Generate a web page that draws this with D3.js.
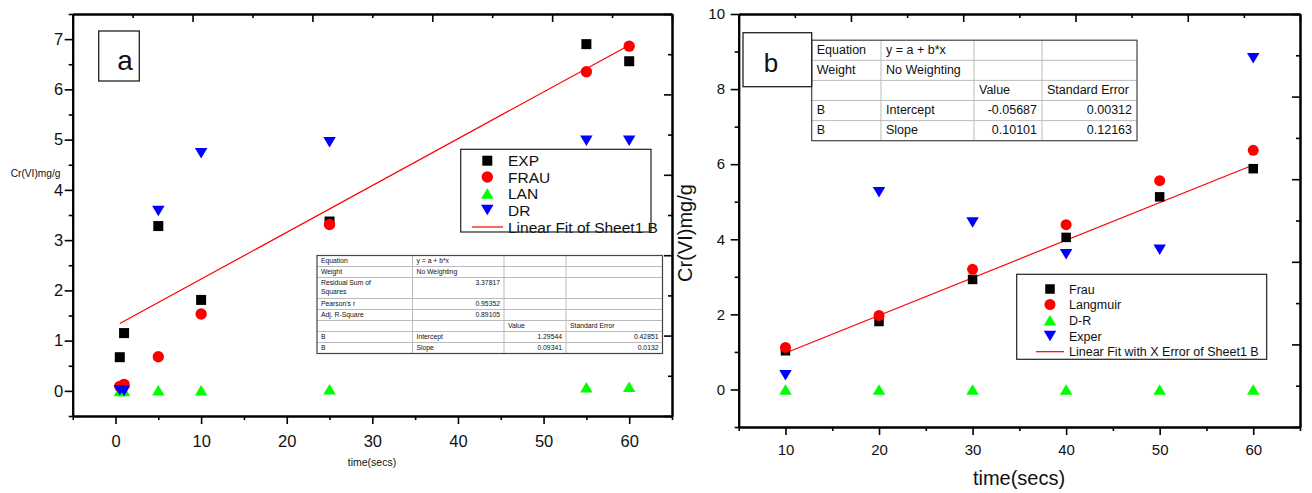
<!DOCTYPE html>
<html>
<head>
<meta charset="utf-8">
<script src="https://cdn.jsdelivr.net/npm/d3@7"></script>
<style>
  body { margin: 0; background: #fff; }
  svg { display: block; font-family: "Liberation Sans", Arial, sans-serif; }
</style>
</head>
<body>
<svg id="chart" width="1312" height="493"></svg>
<script>
// ---- panel a data ----
var aTime = [0.5, 1, 5, 10, 25, 55, 60];
var aExp  = [0.67, 1.15, 3.28, 1.81, 3.37, 6.90, 6.56];
var aFrau = [0.09, 0.13, 0.68, 1.53, 3.31, 6.35, 6.86];
var aLan  = [0, 0, 0.01, 0.01, 0.03, 0.07, 0.08];
var aDr   = [0.01, 0, 3.58, 4.73, 4.95, 4.98, 4.98];
var aFitX = [0.5, 60];
var aFitY = [1.34, 6.88];
var aXTicks = [0, 10, 20, 30, 40, 50, 60];
var aYTicks = [0, 1, 2, 3, 4, 5, 6, 7];
var aLegend = ["EXP", "FRAU", "LAN", "DR", "Linear Fit of Sheet1 B"];
var aTable = [
  ["Equation", "y = a + b*x", "", ""],
  ["Weight", "No Weighting", "", ""],
  ["Residual Sum of|Squares", "3.37817", "", ""],
  ["Pearson's r", "0.95352", "", ""],
  ["Adj. R-Square", "0.89105", "", ""],
  ["", "", "Value", "Standard Error"],
  ["B", "Intercept", "1.29544", "0.42851"],
  ["B", "Slope", "0.09341", "0.0132"]
];

// ---- panel b data ----
var bTime   = [10, 20, 30, 40, 50, 60];
var bFrau   = [1.03, 1.81, 2.93, 4.05, 5.13, 5.88];
var bLang   = [1.12, 1.97, 3.20, 4.39, 5.56, 6.37];
var bDr     = [0, 0, 0, 0, 0, 0];
var bExper  = [0.38, 5.25, 4.45, 3.60, 3.72, 8.82];
var bFitX = [10, 60];
var bFitY = [0.97, 5.98];
var bXTicks = [10, 20, 30, 40, 50, 60];
var bYTicks = [0, 2, 4, 6, 8, 10];
var bLegend = ["Frau", "Langmuir", "D-R", "Exper", "Linear Fit with X Error of Sheet1 B"];
var bTable = [
  ["Equation", "y = a + b*x", "", ""],
  ["Weight", "No Weighting", "", ""],
  ["", "", "Value", "Standard Error"],
  ["B", "Intercept", "-0.05687", "0.00312"],
  ["B", "Slope", "0.10101", "0.12163"]
];

var svg = d3.select("#chart");
var isNum = function(s){ return /^-?[0-9.]+$/.test(s); };

function marker(g, kind, cx, cy, s) {
  if (kind == "square") {
    g.append("rect").attr("x", cx - s.sq/2).attr("y", cy - s.sq/2)
      .attr("width", s.sq).attr("height", s.sq).attr("fill", "#000");
  } else if (kind == "circle") {
    g.append("circle").attr("cx", cx).attr("cy", cy).attr("r", s.r).attr("fill", "#ff0000");
  } else {
    var w = s.tw, h = s.th, d = kind == "up" ? 1 : -1;
    g.append("path")
      .attr("d", "M" + (cx - w/2) + "," + (cy + d*h/2) + "L" + (cx + w/2) + "," + (cy + d*h/2) + "L" + cx + "," + (cy - d*h/2) + "Z")
      .attr("fill", kind == "up" ? "#00ff00" : "#0000ff");
  }
}

function frame(g, x, y, o) {
  // minor + major ticks on the four sides, Origin style
  var bottom = y.range()[0], top = y.range()[1], left = x.range()[0], right = x.range()[1];
  g.append("g").attr("transform", "translate(0," + bottom + ")")
    .call(d3.axisBottom(x).tickValues(o.xMinor).tickSize(4).tickSizeOuter(0).tickFormat(""));
  g.append("g").attr("transform", "translate(0," + bottom + ")")
    .call(d3.axisBottom(x).tickValues(o.xTicks).tickSize(8).tickSizeOuter(0).tickPadding(o.xPad))
    .selectAll("text").attr("font-size", o.fs);
  g.append("g").attr("transform", "translate(" + left + ",0)")
    .call(d3.axisLeft(y).tickValues(o.yMinor).tickSize(4).tickSizeOuter(0).tickFormat(""));
  g.append("g").attr("transform", "translate(" + left + ",0)")
    .call(d3.axisLeft(y).tickValues(o.yTicks).tickSize(8).tickSizeOuter(0).tickPadding(o.yPad))
    .selectAll("text").attr("font-size", o.fs);

  // opposite axes have their own 0..10 scale
  var tx = d3.scaleLinear().domain([0, 10]).range([left, right]);
  var ty = d3.scaleLinear().domain([0, 10]).range([bottom, top]);
  var odd = [1, 3, 5, 7, 9], even = [0, 2, 4, 6, 8, 10];
  g.append("g").attr("transform", "translate(0," + top + ")")
    .call(d3.axisTop(tx).tickValues(odd).tickSize(-4).tickSizeOuter(0).tickFormat(""));
  g.append("g").attr("transform", "translate(0," + top + ")")
    .call(d3.axisTop(tx).tickValues(even).tickSize(-8).tickSizeOuter(0).tickFormat(""));
  g.append("g").attr("transform", "translate(" + right + ",0)")
    .call(d3.axisRight(ty).tickValues(odd).tickSize(-4).tickSizeOuter(0).tickFormat(""));
  g.append("g").attr("transform", "translate(" + right + ",0)")
    .call(d3.axisRight(ty).tickValues(even).tickSize(-8).tickSizeOuter(0).tickFormat(""));

  g.selectAll(".domain").attr("stroke-width", 2).attr("stroke", "#000");
  g.selectAll(".tick line").attr("stroke-width", 1.6).attr("stroke", "#000");
  g.selectAll(".tick text").attr("fill", "#111").attr("font-family", "Liberation Sans, Arial, sans-serif");
}

function table(g, rows, cols, heights, top, fs, pad) {
  var ys = [top];
  heights.forEach(function(h){ ys.push(ys[ys.length-1] + h); });
  // inner lines
  ys.slice(1, -1).forEach(function(yy){
    g.append("line").attr("x1", cols[0]).attr("x2", cols[cols.length-1]).attr("y1", yy).attr("y2", yy)
      .attr("stroke", "#bbb").attr("stroke-width", 1);
  });
  cols.slice(1, -1).forEach(function(xx){
    g.append("line").attr("x1", xx).attr("x2", xx).attr("y1", top).attr("y2", ys[ys.length-1])
      .attr("stroke", "#bbb").attr("stroke-width", 1);
  });
  g.append("rect").attr("x", cols[0]).attr("y", top)
    .attr("width", cols[cols.length-1] - cols[0]).attr("height", ys[ys.length-1] - top)
    .attr("fill", "none").attr("stroke", "#444").attr("stroke-width", 1.2);
  rows.forEach(function(r, i){
    r.forEach(function(txt, j){
      if (!txt) return;
      var num = isNum(txt);
      var t = g.append("text").attr("font-size", fs).attr("fill", "#111")
        .attr("x", num ? cols[j+1] - pad : cols[j] + pad)
        .attr("y", ys[i] + fs * 1.08)
        .attr("text-anchor", num ? "end" : "start");
      txt.split("|").forEach(function(part, k){
        t.append("tspan").attr("x", num ? cols[j+1] - pad : cols[j] + pad)
          .attr("dy", k == 0 ? 0 : fs * 1.3).text(part);
      });
    });
  });
}

function legend(g, names, box, rowY, symX, textX, lineX, fs, s) {
  var kinds = ["square", "circle", "up", "down"];
  names.forEach(function(n, i){
    if (i < 4) marker(g, kinds[i], symX, rowY[i], s);
    else g.append("line").attr("x1", lineX[0]).attr("x2", lineX[1]).attr("y1", rowY[i]).attr("y2", rowY[i])
      .attr("stroke", "#ff0000").attr("stroke-width", 1.2);
    g.append("text").attr("x", textX).attr("y", rowY[i] + fs * 0.36).attr("font-size", fs)
      .attr("fill", "#111").text(n);
  });
  g.append("rect").attr("x", box[0]).attr("y", box[1]).attr("width", box[2] - box[0]).attr("height", box[3] - box[1])
    .attr("fill", "none").attr("stroke", "#222").attr("stroke-width", 1.2);
}

function series(g, x, y, xs, ys, kind, s) {
  xs.forEach(function(v, i){ marker(g, kind, x(v), y(ys[i]), s); });
}

// ================= panel a =================
var ga = svg.append("g");
var xa = d3.scaleLinear().domain([-5, 65]).range([72.7, 672]);
var ya = d3.scaleLinear().domain([-0.5, 7.5]).range([416, 14]);
var sa = { sq: 10, r: 5.7, tw: 12.5, th: 10.5 };

table(ga, aTable, [317, 412.5, 504, 566, 662.5], [11, 11, 21, 11, 11, 11, 11, 11], 255.5, 6.8, 4);

ga.append("path").datum(aFitX)
  .attr("d", d3.line().x(function(d){ return xa(d); }).y(function(d, i){ return ya(aFitY[i]); }))
  .attr("stroke", "#ff0000").attr("stroke-width", 1.2).attr("fill", "none");

series(ga, xa, ya, aTime, aExp, "square", sa);
series(ga, xa, ya, aTime, aFrau, "circle", sa);
series(ga, xa, ya, aTime, aLan, "up", sa);
series(ga, xa, ya, aTime, aDr, "down", sa);

legend(ga, aLegend, [460.7, 149.3, 651, 232], [160.7, 177, 193.5, 210, 227], 487.3, 508, [472, 503], 15.5, sa);

frame(ga, xa, ya, {
  xTicks: aXTicks, xMinor: d3.range(-5, 66, 10),
  yTicks: aYTicks, yMinor: d3.range(-0.5, 7.6, 1),
  fs: 16.5, xPad: 11, yPad: 1.5
});

ga.append("rect").attr("x", 98.7).attr("y", 31).attr("width", 40.6).attr("height", 50)
  .attr("fill", "none").attr("stroke", "#222").attr("stroke-width", 1.3);
ga.append("text").attr("x", 125).attr("y", 70).attr("text-anchor", "middle")
  .attr("font-size", 28).attr("fill", "#111").text("a");

ga.append("text").attr("x", 10.7).attr("y", 176.5).attr("font-size", 10.2).attr("fill", "#111").text("Cr(VI)mg/g");
ga.append("text").attr("x", 372).attr("y", 466).attr("text-anchor", "middle")
  .attr("font-size", 10.5).attr("fill", "#111").text("time(secs)");

// ================= panel b =================
var gb = svg.append("g");
var xb = d3.scaleLinear().domain([5, 65]).range([738.7, 1300]);
var yb = d3.scaleLinear().domain([-1, 10]).range([427, 14]);
var sb = { sq: 9.5, r: 5.5, tw: 12.5, th: 10.5 };

gb.append("path").datum(bFitX)
  .attr("d", d3.line().x(function(d){ return xb(d); }).y(function(d, i){ return yb(bFitY[i]); }))
  .attr("stroke", "#ff0000").attr("stroke-width", 1.2).attr("fill", "none");

series(gb, xb, yb, bTime, bFrau, "square", sb);
series(gb, xb, yb, bTime, bLang, "circle", sb);
series(gb, xb, yb, bTime, bDr, "up", sb);
series(gb, xb, yb, bTime, bExper, "down", sb);

table(gb, bTable, [811.7, 881, 974, 1042, 1137], [20.1, 20.1, 20.1, 20.1, 20.1], 40.2, 12.5, 5);

legend(gb, bLegend, [1016.7, 274.3, 1266.7, 359.3], [289, 304.5, 320.2, 336, 351.7], 1050, 1069, [1036, 1064], 12.5, sb);

frame(gb, xb, yb, {
  xTicks: bXTicks, xMinor: d3.range(5, 66, 10),
  yTicks: bYTicks, yMinor: d3.range(-1, 10, 2),
  fs: 15, xPad: 9.3, yPad: 5.7
});

gb.append("rect").attr("x", 743).attr("y", 32.7).attr("width", 68.7).attr("height", 54)
  .attr("fill", "none").attr("stroke", "#222").attr("stroke-width", 1.3);
gb.append("text").attr("x", 771).attr("y", 71.7).attr("text-anchor", "middle")
  .attr("font-size", 26).attr("fill", "#111").text("b");

gb.append("text").attr("transform", "translate(691.5,233) rotate(-90)").attr("text-anchor", "middle")
  .attr("font-size", 20).attr("fill", "#111").text("Cr(VI)mg/g");
gb.append("text").attr("x", 1019).attr("y", 485).attr("text-anchor", "middle")
  .attr("font-size", 20).attr("fill", "#111").text("time(secs)");
</script>
</body>
</html>
